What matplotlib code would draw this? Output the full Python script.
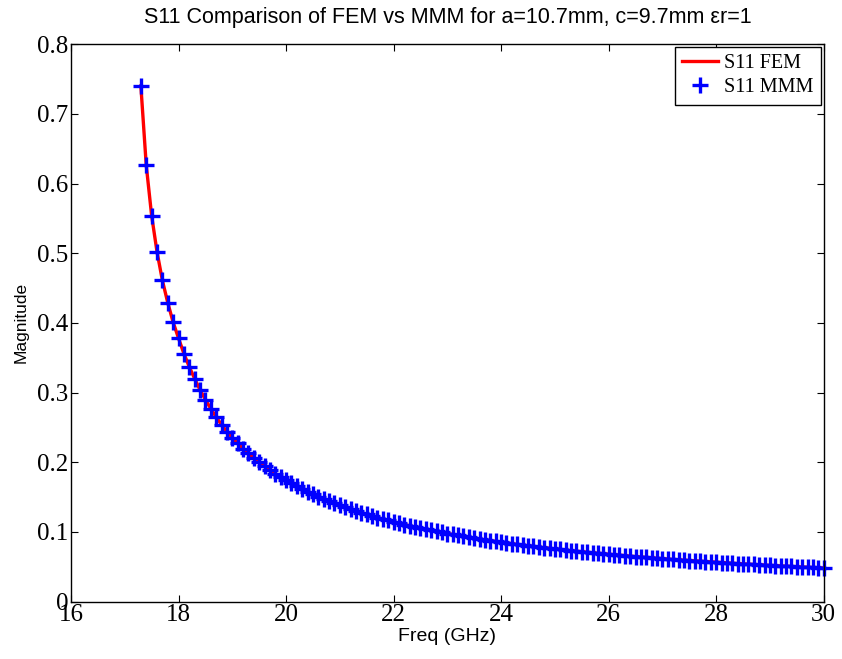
import matplotlib
matplotlib.use('Agg')
from matplotlib import pyplot as plt
import numpy as np

# frequency points (GHz), 0.1 GHz step from 17.3 to 30
freq_ghz = np.round(np.arange(173, 301) / 10.0, 1)

# S11 magnitude
s11_mmm = [0.740, 0.626, 0.554, 0.502, 0.461, 0.429, 0.401, 0.378, 0.356, 0.337,
           0.320, 0.304, 0.290, 0.277, 0.265, 0.254, 0.244,
           0.2351, 0.2271, 0.2197, 0.2127, 0.2062, 0.2000, 0.1942, 0.1887, 0.1836, 0.1787,
           0.1740, 0.1696, 0.1654, 0.1614, 0.1576, 0.1540, 0.1506, 0.1473, 0.1441, 0.1411,
           0.1381, 0.1354, 0.1327, 0.1301, 0.1276, 0.1252, 0.1229, 0.1207, 0.1186, 0.1165,
           0.1145, 0.1126, 0.1107, 0.1089, 0.1072, 0.1055, 0.1039, 0.1023, 0.1008, 0.0993,
           0.0978, 0.0964, 0.0950, 0.0937, 0.0924, 0.0912, 0.0899, 0.0887, 0.0876, 0.0865,
           0.0854, 0.0843, 0.0832, 0.0822, 0.0812, 0.0802, 0.0793, 0.0784, 0.0775, 0.0766,
           0.0757, 0.0749, 0.0740, 0.0732, 0.0724, 0.0717, 0.0709, 0.0702, 0.0694, 0.0687,
           0.0680, 0.0673, 0.0667, 0.0660, 0.0654, 0.0647, 0.0641, 0.0635, 0.0629, 0.0623,
           0.0618, 0.0612, 0.0606, 0.0601, 0.0596, 0.0590, 0.0585, 0.0580, 0.0575, 0.0570,
           0.0565, 0.0561, 0.0556, 0.0551, 0.0547, 0.0543, 0.0538, 0.0534, 0.0530, 0.0525,
           0.0521, 0.0517, 0.0513, 0.0510, 0.0506, 0.0502, 0.0498, 0.0494, 0.0491, 0.0487,
           0.0484]
s11_fem = list(s11_mmm)

xticks = [16, 18, 20, 22, 24, 26, 28, 30]
yticks = [0, 0.1, 0.2, 0.3, 0.4, 0.5, 0.6, 0.7, 0.8]

fig = plt.figure(figsize=(8.42, 6.59), dpi=100)
ax = fig.add_axes([0.0843, 0.087, 0.894, 0.846])

ax.plot(freq_ghz, s11_fem, color='red', linewidth=2.4, label='S11 FEM')
ax.plot(freq_ghz, s11_mmm, linestyle='none', marker='+', color='blue',
        markersize=11, markeredgewidth=2.4, label='S11 MMM', clip_on=False)

ax.set_xlim(16, 30)
ax.set_ylim(0, 0.8)
ax.set_xticks(xticks)
ax.set_yticks(yticks)
ax.set_xticklabels([str(t) for t in xticks])
ax.set_yticklabels(['0', '0.1', '0.2', '0.3', '0.4', '0.5', '0.6', '0.7', '0.8'])
ax.tick_params(direction='in', top=True, right=True, length=5, width=0.8, pad=2)
for lbl in ax.get_xticklabels() + ax.get_yticklabels():
    lbl.set_fontfamily('Liberation Serif')
    lbl.set_fontsize(18)
for sp in ax.spines.values():
    sp.set_linewidth(1.0)

ax.set_title('S11 Comparison of FEM vs MMM for a=10.7mm, c=9.7mm \u03b5r=1',
             fontfamily='Liberation Sans', fontsize=15.5, pad=15)
ax.set_xlabel('Freq (GHz)', fontfamily='Liberation Sans', fontsize=14, labelpad=1)
ax.set_ylabel('Magnitude', fontfamily='Liberation Sans', fontsize=12.5, labelpad=6)

leg = ax.legend(loc='upper right', prop={'family': 'Liberation Serif', 'size': 14.5},
                fancybox=False, framealpha=1, edgecolor='black', borderaxespad=0.15,
                handlelength=1.8, handletextpad=0.3, borderpad=0.35, labelspacing=0.25)
leg.get_frame().set_linewidth(1.0)

plt.savefig('out.png', dpi=100)
